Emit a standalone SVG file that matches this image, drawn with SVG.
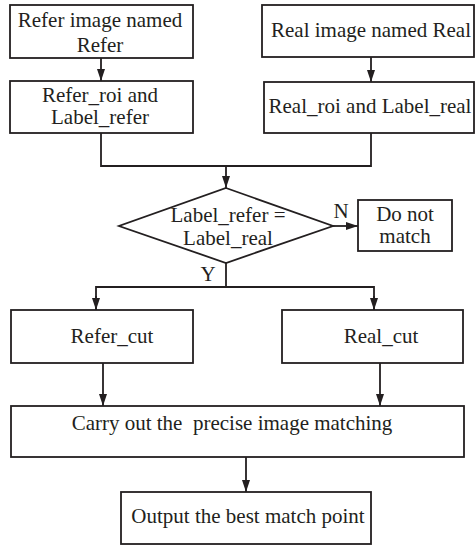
<svg xmlns="http://www.w3.org/2000/svg" width="476" height="546" viewBox="0 0 476 546">
<style>
.box{fill:#fff;stroke:#231f20;stroke-width:1.8}
.ln{fill:none;stroke:#231f20;stroke-width:1.8}
text{font-family:"Liberation Serif","Times New Roman",serif;font-size:21px;fill:#231f20;text-anchor:middle}
</style>
<defs>
<marker id="ahl" viewBox="0 0 12 8" refX="12" refY="4" markerWidth="12" markerHeight="8" markerUnits="userSpaceOnUse" orient="auto">
<path d="M0,0 L12,4 L0,8 z" fill="#231f20"/>
</marker>
</defs>
<g id="connectors">
<line class="ln" x1="101" y1="58" x2="101" y2="81" marker-end="url(#ahl)"/>
<line class="ln" x1="371" y1="57" x2="371" y2="82" marker-end="url(#ahl)"/>
<polyline class="ln" points="101,133 101,166 371,166 371,133"/>
<line class="ln" x1="226" y1="166" x2="226" y2="188" marker-end="url(#ahl)"/>
<line class="ln" x1="333" y1="226" x2="358" y2="226" marker-end="url(#ahl)"/>
<line class="ln" x1="226" y1="263" x2="226" y2="287"/>
<polyline class="ln" points="96,310 96,287 374,287 374,310"/>
<line class="ln" x1="96" y1="296" x2="96" y2="310" marker-end="url(#ahl)"/>
<line class="ln" x1="374" y1="296" x2="374" y2="310" marker-end="url(#ahl)"/>
<line class="ln" x1="103" y1="363" x2="103" y2="406" marker-end="url(#ahl)"/>
<line class="ln" x1="380" y1="363" x2="380" y2="406" marker-end="url(#ahl)"/>
<line class="ln" x1="246" y1="457" x2="246" y2="492" marker-end="url(#ahl)"/>
<text x="341" y="218">N</text>
<text x="208" y="281">Y</text>
</g>
<g id="refer-image">
<rect class="box" x="10" y="5" width="183" height="53"/>
<text x="100" y="27">Refer image named</text>
<text x="100" y="52">Refer</text>
</g>
<g id="real-image">
<rect class="box" x="262" y="5" width="212" height="52"/>
<text x="371" y="37">Real image named Real</text>
</g>
<g id="refer-roi">
<rect class="box" x="10" y="81" width="183" height="52"/>
<text x="100" y="102">Refer_roi and</text>
<text x="100" y="124">Label_refer</text>
</g>
<g id="real-roi">
<rect class="box" x="264" y="82" width="210" height="51"/>
<text x="370" y="113">Real_roi and Label_real</text>
</g>
<g id="decision">
<polygon class="box" points="226,188 333,226 226,263 119,226"/>
<text x="228" y="222">Label_refer =</text>
<text x="228" y="245">Label_real</text>
</g>
<g id="do-not-match">
<rect class="box" x="358" y="200" width="94" height="51"/>
<text x="405" y="221">Do not</text>
<text x="405" y="243">match</text>
</g>
<g id="refer-cut">
<rect class="box" x="11" y="310" width="182" height="53"/>
<text x="112" y="343">Refer_cut</text>
</g>
<g id="real-cut">
<rect class="box" x="282" y="310" width="181" height="53"/>
<text x="381" y="343">Real_cut</text>
</g>
<g id="precise-matching">
<rect class="box" x="11" y="406" width="453" height="51"/>
<text x="232" y="430" xml:space="preserve">Carry out the  precise image matching</text>
</g>
<g id="output">
<rect class="box" x="121" y="492" width="250" height="52"/>
<text x="248" y="523">Output the best match point</text>
</g>
</svg>
